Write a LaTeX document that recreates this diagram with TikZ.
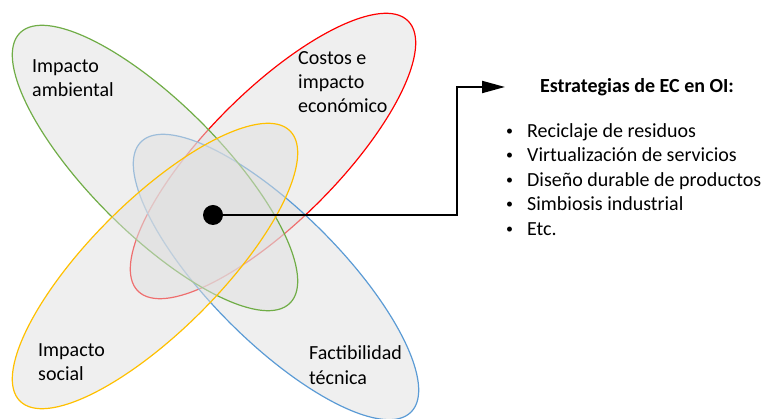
\documentclass[tikz,border=0pt]{standalone}
\usepackage{fontspec}
\setmainfont{Carlito}
\usetikzlibrary{arrows.meta}
\definecolor{ambgreen}{HTML}{70AD47}
\definecolor{costred}{HTML}{FF0000}
\definecolor{socyellow}{HTML}{FFC000}
\definecolor{tecblue}{HTML}{5B9BD5}
\definecolor{blobfill}{HTML}{DFDFDF}
\newcommand{\smallbul}{\raisebox{2pt}{\fontsize{14}{14}\selectfont\textbullet}}
\tikzset{
	blob/.style={line width=1.2pt, fill=blobfill, fill opacity=0.5},
	lbl/.style={font=\fontsize{20}{24.4}\selectfont, align=left, anchor=west, inner sep=0pt},
}

\begin{document}
\begin{tikzpicture}[x=1pt,y=1pt]
	\useasboundingbox (0,0) rectangle (767,419);
	% the four areas
	\draw[blob, draw=costred, rotate around={45:(273,263)}] (273,263) ellipse [x radius=191pt, y radius=65pt];
	\draw[blob, draw=tecblue, rotate around={-45:(276,142)}] (276,142) ellipse [x radius=191pt, y radius=65pt];
	\draw[blob, draw=ambgreen, rotate around={-45:(155,251)}] (155,251) ellipse [x radius=191pt, y radius=65pt];
	\draw[blob, draw=socyellow, rotate around={45:(155,153)}] (155,153) ellipse [x radius=191pt, y radius=65pt];
	\node[lbl] (amb) at (32,341) {Impacto\\ambiental};
	\node[lbl] (cost) at (298,337) {Costos e\\impacto\\económico};
	\node[lbl] (soc) at (38,57) {Impacto\\social};
	\node[lbl] (tec) at (309,54) {Factibilidad\\técnica};
	% centre and arrow
	\node[circle, fill=black, inner sep=0pt, minimum size=20pt] (hub) at (213,204) {};
	\coordinate (bend) at (457,332);
	\coordinate (tip) at (505,332);
	\draw[line width=2pt, -{Triangle[length=23pt,width=12pt]}] (hub.center) -| (bend) -- (tip);
	\node[font=\fontsize{20}{24}\selectfont\bfseries] (title) at (637,332) {Estrategias de EC en OI:};
	\node[lbl] (list) at (506,237.5) {\begin{tabular}{@{}l@{\hspace{14pt}}l@{}}
		\smallbul & Reciclaje de residuos\\
		\smallbul & Virtualización de servicios\\
		\smallbul & Diseño durable de productos\\
		\smallbul & Simbiosis industrial\\
		\smallbul & Etc.
	\end{tabular}};
\end{tikzpicture}
\end{document}
